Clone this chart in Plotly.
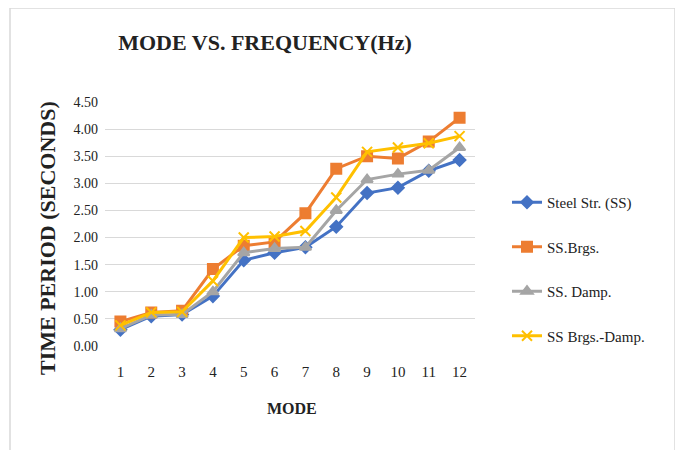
import plotly.graph_objects as go

modes = [1, 2, 3, 4, 5, 6, 7, 8, 9, 10, 11, 12]
steel_ss = [0.30, 0.55, 0.58, 0.92, 1.58, 1.72, 1.82, 2.20, 2.82, 2.92, 3.23, 3.43]
ss_brgs = [0.45, 0.62, 0.65, 1.42, 1.85, 1.92, 2.45, 3.27, 3.50, 3.46, 3.77, 4.21]
ss_damp = [0.32, 0.57, 0.58, 1.00, 1.72, 1.80, 1.82, 2.50, 3.07, 3.17, 3.24, 3.66]
ss_brgs_damp = [0.38, 0.62, 0.63, 1.20, 2.00, 2.02, 2.12, 2.74, 3.58, 3.66, 3.74, 3.87]
y_ticks = [0, 0.5, 1.0, 1.5, 2.0, 2.5, 3.0, 3.5, 4.0, 4.5]

series = [
    ("Steel Str. (SS)", steel_ss, "#4472C4", "diamond", 9),
    ("SS.Brgs.", ss_brgs, "#ED7D31", "square", 10),
    ("SS. Damp.", ss_damp, "#A5A5A5", "triangle-up", 10),
    ("SS Brgs.-Damp.", ss_brgs_damp, "#FFC000", "x-thin", 10),
]

fig = go.Figure()
for i, (name, vals, col, sym, sz) in enumerate(series):
    fig.add_trace(go.Scatter(
        x=modes, y=vals, name=name, mode="lines+markers",
        line=dict(color=col, width=3),
        marker=dict(symbol=sym, size=sz, color=col, line=dict(color=col, width=2)),
        legendgroup=f"g{i}",
    ))

font_family = "Liberation Serif"
OFF = 8  # page body margin in the screenshot
W, H = 675, 442
# plot area in screen coordinates: x 105..475, y 102..346
l, t = 105 - OFF, 102 - OFF
r = W - (475 - OFF)
b = H - (346 - OFF)
pw, ph = W - l - r, H - t - b

def px_x(p):
    return (p - OFF - l) / pw

def px_y(p):
    return (H - b - (p - OFF)) / ph

fig.update_layout(
    width=W, height=H,
    margin=dict(l=l, r=r, t=t, b=b, autoexpand=False),
    paper_bgcolor="white", plot_bgcolor="white",
    font=dict(family=font_family, color="#222222"),
    title=dict(text="<b>MODE VS. FREQUENCY(Hz)</b>", x=(265 - OFF) / W,
               xanchor="center", y=1 - (42 - OFF) / H, yanchor="middle",
               font=dict(size=22, family=font_family, color="#222222")),
    xaxis=dict(
        range=[0.5, 12.5], tickmode="array", tickvals=modes,
        ticktext=[str(m) for m in modes], showgrid=False, zeroline=False,
        showline=False, ticks="", automargin=False, ticklabelstandoff=15,
        tickfont=dict(size=15, family=font_family, color="#222222"),
    ),
    yaxis=dict(
        range=[0, 4.5], tickmode="array", tickvals=y_ticks,
        ticktext=[f"{v:.2f}" for v in y_ticks],
        showgrid=True, gridcolor="#D9D9D9", gridwidth=1, zeroline=False,
        showline=False, ticks="", automargin=False, ticklabelstandoff=6,
        tickfont=dict(size=14, family=font_family, color="#222222"),
    ),
    legend=dict(
        x=px_x(507), y=px_y(186), xanchor="left", yanchor="top",
        font=dict(size=15, family=font_family, color="#222222"),
        tracegroupgap=22, traceorder="grouped", bgcolor="rgba(0,0,0,0)",
    ),
    showlegend=True,
)

fig.add_annotation(text="<b>TIME PERIOD (SECONDS)</b>", xref="paper", yref="paper",
                   x=px_x(47), y=px_y(238), textangle=-90, showarrow=False,
                   xanchor="center", yanchor="middle",
                   font=dict(size=22, family=font_family, color="#222222"))
fig.add_annotation(text="<b>MODE</b>", xref="paper", yref="paper",
                   x=px_x(292), y=px_y(408), showarrow=False,
                   xanchor="center", yanchor="middle",
                   font=dict(size=16, family=font_family, color="#222222"))

fig.add_shape(type="rect", xref="paper", yref="paper",
              x0=px_x(10), x1=px_x(675), y0=px_y(460), y1=px_y(8),
              line=dict(color="#D9D9D9", width=1.5), fillcolor="rgba(0,0,0,0)",
              layer="below")

fig.write_html("out.html")
